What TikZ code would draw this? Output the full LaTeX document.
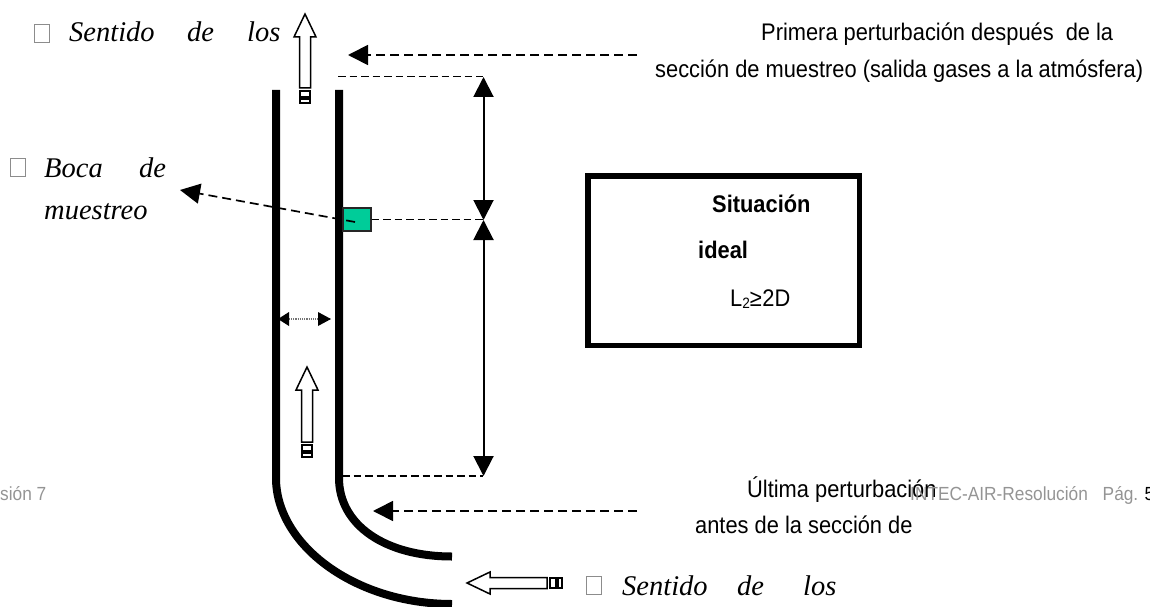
\documentclass[tikz,border=0pt]{standalone}
\usepackage{fontspec}
\setmainfont{Liberation Serif}
\setsansfont[FakeStretch=0.91]{Liberation Sans}
\usetikzlibrary{arrows.meta}
\definecolor{portgreen}{HTML}{00CC99}
\tikzset{
  x=1pt,y=-1pt,
  wall/.style={line width=8pt,line cap=butt},
  dashline/.style={line width=1.7pt,dash pattern=on 9pt off 5pt},
  guideline/.style={line width=1.6pt,dash pattern=on 7.5pt off 4pt},
  tip/.style={-{Triangle[length=20pt,width=20pt]}},
  bothtip/.style={{Triangle[length=20pt,width=20pt]}-{Triangle[length=20pt,width=20pt]},line width=2pt},
  serifit/.style={font=\fontsize{28.5}{32}\selectfont\itshape,anchor=base west,inner sep=0pt},
  sanslab/.style={font=\sffamily\fontsize{24}{26}\selectfont,anchor=base west,inner sep=0pt},
  sansbold/.style={font=\sffamily\bfseries\fontsize{24}{26}\selectfont,anchor=base west,inner sep=0pt},
  foot/.style={font=\sffamily\fontsize{19}{22}\selectfont,anchor=base west,inner sep=0pt,text=black!42},
  bar/.style={draw,line width=1.3pt,fill=white},
  tickbox/.style={draw=black!45,line width=0.8pt,minimum width=15pt,minimum height=18pt,inner sep=0pt},
}
\newcommand{\hollowarrow}[4]{%
  \begin{scope}[shift={(#1,#2)},rotate=#3]
    \draw[bar,line width=1.5pt] (0,0) -- (23,-11) -- (23,-5.5) -- (#4,-5.5) -- (#4,5.5) -- (23,5.5) -- (23,11) -- cycle;
    \draw[bar] (#4+3,-5) rectangle (#4+9,5);
    \draw[bar] (#4+11,-5) rectangle (#4+15,5);
  \end{scope}}
\begin{document}
\begin{tikzpicture}
\useasboundingbox (0,0) rectangle (1150,607);
% walls
\coordinate (LT) at (276,90); \coordinate (LB) at (276,478);
\coordinate (RT) at (339,90); \coordinate (RB) at (339,478);
\coordinate (LE) at (452,604); \coordinate (RE) at (452,556.5);
\draw[wall] (LT) -- (LB) .. controls (276,545) and (355,604) .. (LE);
\draw[wall] (RT) -- (RB) .. controls (339,525) and (385,556.5) .. (RE);
% sampling port
\node[draw=black!85,line width=1.2pt,fill=portgreen,minimum width=28pt,minimum height=23pt,inner sep=0pt] (port) at (357,219.5) {};
% dashed guides
\coordinate (a1s) at (637,55); \coordinate (a1e) at (348,55);
\draw[dashline,tip] (a1s) -- (a1e);
\coordinate (a2s) at (637,511); \coordinate (a2e) at (373,511);
\coordinate (g1a) at (338,76.5); \coordinate (g1b) at (483,76.5);
\draw[guideline] (g1a) -- (g1b);
\coordinate (g2a) at (342,476); \coordinate (g2b) at (483,476);
\draw[guideline] (g2a) -- (g2b);
\coordinate (g3b) at (483,219.5);
\draw[guideline] (port.east) -- (g3b);
\draw[dashline,tip] (a2s) -- (a2e);
\coordinate (mo) at (355,222); \coordinate (me) at (180,190);
\draw[dashline,tip] (mo) -- (me);
% dimension arrows
\coordinate (d1) at (483.5,77); \coordinate (d2) at (483.5,220); \coordinate (d3) at (483.5,476);
\draw[bothtip] (d1) -- (d2);
\draw[bothtip] (d2) -- (d3);
% diameter
\coordinate (da) at (280,319); \coordinate (db) at (330,319);
\draw[black!55,densely dotted,line width=1.2pt] (da) -- (db);
\fill (278,319) -- (289,312) -- (289,326) -- cycle;
\fill (331,319) -- (318,312) -- (318,326) -- cycle;
% flow arrows
\hollowarrow{305}{14}{-90}{74}
\hollowarrow{307}{367}{-90}{75}
\hollowarrow{467}{583}{0}{80}
% texts
\node[tickbox] (t1) at (41.5,33.5) {};
\node[serifit] (s1) at (69,42) {Sentido};
\node[serifit] (s2) at (187,42) {de};
\node[serifit] (s3) at (247,42) {los};
\node[tickbox] (t2) at (18,167.5) {};
\node[serifit] (b1) at (44,177) {Boca};
\node[serifit] (b2) at (139,177) {de};
\node[serifit] (b3) at (44,219) {muestreo};
\node[tickbox] (t3) at (594,585.5) {};
\node[serifit] (c1) at (622,595) {Sentido};
\node[serifit] (c2) at (737,595) {de};
\node[serifit] (c3) at (803,595) {los};
\node[sanslab] (p1) at (761,41) {Primera perturbación después\hspace{6pt} de la};
\node[sanslab] (p2) at (655,78) {sección de muestreo (salida gases a la atmósfera)};
\node[sanslab] (u1) at (747,497) {Última perturbación};
\node[sanslab] (u2) at (695,533) {antes de la sección de};
\node[foot] (f1) at (0,500) {sión 7};
\node[foot] (f2) at (910,500) {INTEC-AIR-Resolución\hspace{10pt} Pág. \textcolor{black}{5}};
% box
\node[draw,line width=5.5pt,minimum width=271.5pt,minimum height=169.5pt,inner sep=0pt] (box) at (723.5,260.5) {};
\node[sansbold] (b4) at (712,212) {Situación};
\node[sansbold] (b5) at (698,258) {ideal};
\node[sanslab] (b6) at (730,306) {L{\fontsize{15}{15}\selectfont\raisebox{-2pt}{2}}≥\hspace{0.5pt}2D};
\end{tikzpicture}
\end{document}
